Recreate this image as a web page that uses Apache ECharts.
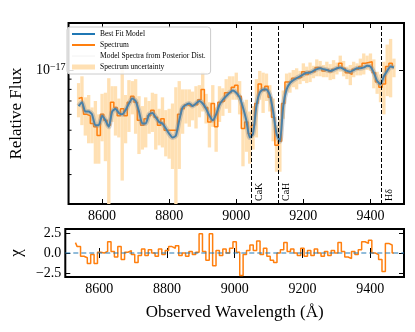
<!DOCTYPE html>
<html>
<head>
<meta charset="UTF-8">
<title>spectrum fit</title>
<script src="https://cdn.jsdelivr.net/npm/echarts@6/dist/echarts.min.js"></script>
<style>
html,body{margin:0;padding:0;background:#fff;}
#chart{width:415px;height:332px;}
</style>
</head>
<body>
<div id="chart"></div>
<script>
// wavelength grid (Angstrom)
var wave = [8530,8540,8550,8560,8570,8580,8590,8600,8610,8620,
    8630,8640,8650,8660,8670,8680,8690,8700,8710,8720,
    8730,8740,8750,8760,8770,8780,8790,8800,8810,8820,
    8830,8840,8850,8860,8870,8880,8890,8900,8910,8920,
    8930,8940,8950,8960,8970,8980,8990,9000,9010,9020,
    9030,9040,9050,9060,9070,9080,9090,9100,9110,9120,
    9130,9140,9150,9160,9170,9180,9190,9200,9210,9220,
    9230,9240,9250,9260,9270,9280,9290,9300,9310,9320,
    9330,9340,9350,9360,9370,9380,9390,9400,9410,9420,
    9430,9440,9450,9460,9470];
// flux in units of 1e-17
var model = [0.66,0.69,0.62,0.62,0.60,0.53,0.53,0.59,0.56,0.52,
    0.62,0.64,0.61,0.60,0.63,0.68,0.72,0.70,0.62,0.54,
    0.54,0.60,0.61,0.58,0.55,0.54,0.51,0.48,0.46,0.47,
    0.56,0.65,0.67,0.68,0.66,0.68,0.70,0.68,0.64,0.59,
    0.56,0.60,0.67,0.71,0.74,0.77,0.79,0.77,0.73,0.65,
    0.56,0.46,0.48,0.66,0.77,0.80,0.80,0.75,0.62,0.48,
    0.44,0.66,0.80,0.86,0.89,0.91,0.93,0.95,0.97,0.97,
    0.99,1.01,1.02,1.01,1.00,0.99,1.00,1.02,1.03,1.01,
    0.99,0.98,1.00,1.02,1.02,1.03,1.05,1.04,0.97,0.88,
    0.85,0.93,0.99,1.04,1.03];
var spec = [0.72,0.73,0.60,0.59,0.54,0.52,0.47,0.60,0.56,0.53,
    0.69,0.65,0.59,0.64,0.59,0.69,0.74,0.69,0.56,0.53,
    0.57,0.59,0.63,0.58,0.53,0.57,0.50,0.50,0.50,0.50,
    0.60,0.64,0.67,0.66,0.67,0.67,0.71,0.80,0.65,0.55,
    0.68,0.52,0.69,0.70,0.77,0.77,0.82,0.84,0.74,0.51,
    0.55,0.48,0.53,0.68,0.85,0.79,0.83,0.73,0.58,0.42,
    0.44,0.68,0.87,0.87,0.91,0.91,0.92,0.98,0.95,0.98,
    0.98,1.03,1.02,0.99,1.01,0.98,1.01,1.02,1.08,1.02,
    0.97,0.95,1.01,1.01,1.04,1.08,1.09,1.10,0.97,0.87,
    0.82,0.85,1.04,1.08,1.03];
var err = [0.14,0.20,0.13,0.16,0.11,0.18,0.13,0.16,0.21,0.38,
    0.14,0.18,0.13,0.36,0.16,0.20,0.14,0.21,0.18,0.13,
    0.16,0.11,0.14,0.18,0.11,0.16,0.13,0.14,0.18,0.32,
    0.28,0.16,0.13,0.14,0.11,0.16,0.13,0.18,0.11,0.14,
    0.16,0.13,0.14,0.11,0.13,0.16,0.11,0.13,0.14,0.18,
    0.16,0.14,0.13,0.22,0.14,0.18,0.13,0.11,0.14,0.11,
    0.13,0.11,0.09,0.10,0.09,0.11,0.07,0.10,0.09,0.11,
    0.07,0.10,0.09,0.07,0.09,0.09,0.11,0.07,0.10,0.09,
    0.07,0.11,0.09,0.07,0.10,0.13,0.09,0.11,0.16,0.11,
    0.13,0.25,0.30,0.35,0.11];
var resid = [1.3,0.8,-0.4,-0.6,-1.3,-0.2,-1.3,0.1,0.0,0.2,
    1.4,0.2,-0.5,0.8,-0.8,0.1,0.3,-0.2,-1.2,-0.3,
    0.5,-0.3,0.4,0.0,-0.4,0.5,-0.2,0.3,0.8,0.6,
    0.9,-0.3,0.0,-0.4,0.2,-0.2,0.1,2.4,0.2,-0.9,
    2.4,-1.6,0.3,-0.3,0.5,0.0,0.6,1.4,0.1,-2.8,
    -0.2,0.3,1.0,0.3,1.5,-0.2,0.6,-0.4,-0.9,-1.2,
    0.0,0.4,1.3,0.2,0.5,0.0,-0.3,0.6,-0.4,0.3,
    -0.3,0.5,0.0,-0.4,0.2,-0.3,0.3,0.0,1.3,0.2,
    -0.5,-0.7,0.2,-0.2,0.4,1.4,1.2,1.6,0.0,-0.2,
    -0.8,-2.3,1.2,1.0,0.0];
var lineWaves = [9045, 9125, 9432];
var lineNames = ['CaK', 'CaH', 'H\u03b4'];
var xTicks = [8600, 8800, 9000, 9200, 9400];
var chiTicks = [-2.5, 0, 2.5];
var minorFlux = [0.3, 0.4, 0.5, 0.6, 0.7, 0.8, 0.9];

var FONT = 'Liberation Serif';
var BAND = '#ffe0b3';
var chart = echarts.init(document.getElementById('chart'));

function pairs(ys) {
    return wave.map(function (w, i) { return [w, ys[i]]; });
}
var band = wave.map(function (w, i) {
    return [w, Math.max(spec[i] - err[i], 0.15), spec[i] + err[i]];
});

function xAx(grid, pos, labels, name) {
    return {
        type: 'value', gridIndex: grid, position: pos, min: 8500, max: 9500,
        axisLine: {show: false}, splitLine: {show: false},
        axisTick: {inside: true, length: 5, customValues: xTicks, lineStyle: {color: '#000'}},
        axisLabel: {show: labels, customValues: xTicks, margin: 5, color: '#000',
            fontFamily: FONT, fontSize: 14, formatter: function (v) { return String(v); }},
        name: name || '', nameLocation: 'middle', nameGap: 27,
        nameTextStyle: {fontFamily: FONT, fontSize: 17, color: '#000'}
    };
}

var markLineData = lineWaves.map(function (w, i) {
    return {xAxis: w, label: {formatter: lineNames[i]}};
});

option = {
    animation: false,
    grid: [
        {left: 65, right: 11, top: 23, bottom: 128, show: true, borderColor: '#000', borderWidth: 2},
        {left: 65, right: 11, top: 229, bottom: 55, show: true, borderColor: '#000', borderWidth: 2}
    ],
    legend: {
        orient: 'vertical', left: 67, top: 27,
        data: [
            {name: 'Best Fit Model'},
            {name: 'Spectrum'},
            {name: 'Model Spectra from Posterior Dist.', lineStyle: {color: '#f2f2f2', width: 1}},
            {name: 'Spectrum uncertainty', icon: 'rect', itemStyle: {color: BAND, opacity: 1}}
        ],
        itemStyle: {opacity: 0},
        itemWidth: 23, itemHeight: 5, itemGap: 1,
        padding: [2, 5, 2, 4],
        backgroundColor: 'rgba(255,255,255,0.85)', borderColor: '#cccccc', borderWidth: 1, borderRadius: 3,
        textStyle: {fontFamily: FONT, fontSize: 7.5, lineHeight: 10, color: '#000'},
        selectedMode: false
    },
    xAxis: [
        xAx(0, 'bottom', true),
        xAx(0, 'top', false),
        xAx(1, 'bottom', true, 'Observed Wavelength (\u00c5)'),
        xAx(1, 'top', false)
    ],
    yAxis: [
        {
            type: 'log', gridIndex: 0, position: 'left', min: 0.2138, max: 1.718,
            axisLine: {show: false}, splitLine: {show: false},
            axisTick: {inside: true, length: 5, lineStyle: {color: '#000'}},
            axisLabel: {
                margin: 3, color: '#000',
                formatter: function (v) { return Math.abs(v - 1) < 1e-6 ? '{a|10}{b|\u221217}' : ''; },
                rich: {
                    a: {fontFamily: FONT, fontSize: 14, lineHeight: 16, color: '#000'},
                    b: {fontFamily: FONT, fontSize: 10, lineHeight: 10, verticalAlign: 'top', color: '#000'}
                }
            },
            name: 'Relative Flux', nameLocation: 'middle', nameGap: 40,
            nameTextStyle: {fontFamily: FONT, fontSize: 17, color: '#000'}
        },
        {
            type: 'log', gridIndex: 0, position: 'right', min: 0.2138, max: 1.718,
            axisLine: {show: false}, splitLine: {show: false},
            axisTick: {inside: true, length: 5, lineStyle: {color: '#000'}},
            axisLabel: {show: false}
        },
        {
            type: 'value', gridIndex: 1, position: 'left', min: -3, max: 3,
            axisLine: {show: false}, splitLine: {show: false},
            axisTick: {inside: true, length: 5, customValues: chiTicks, lineStyle: {color: '#000'}},
            axisLabel: {customValues: chiTicks, margin: 4, color: '#000', fontFamily: FONT, fontSize: 14,
                formatter: function (v) { return v.toFixed(1).replace('-', '\u2212'); }},
            name: '\u03c7', nameLocation: 'middle', nameGap: 40,
            nameTextStyle: {fontFamily: FONT, fontSize: 17, color: '#000'}
        },
        {
            type: 'value', gridIndex: 1, position: 'right', min: -3, max: 3,
            axisLine: {show: false}, splitLine: {show: false},
            axisTick: {inside: true, length: 5, customValues: chiTicks, lineStyle: {color: '#000'}},
            axisLabel: {show: false}
        }
    ],
    series: [
        {
            name: 'Spectrum uncertainty', type: 'custom', xAxisIndex: 0, yAxisIndex: 0,
            data: band, encode: {x: 0, y: [1, 2]}, clip: true, silent: true,
            itemStyle: {color: BAND},
            renderItem: function (params, api) {
                var x = api.value(0);
                var p0 = api.coord([x - 5, api.value(2)]);
                var p1 = api.coord([x + 5, api.value(1)]);
                return {type: 'rect', shape: {x: p0[0], y: p0[1], width: p1[0] - p0[0], height: p1[1] - p0[1]},
                    style: {fill: BAND}};
            }
        },
        {
            name: 'Spectrum', type: 'line', xAxisIndex: 0, yAxisIndex: 0, step: 'middle',
            data: pairs(spec), symbol: 'none', lineStyle: {color: '#ff7f0e', width: 1.5},
            itemStyle: {color: '#ff7f0e'},
            markLine: {
                silent: true, symbol: ['none', 'none'],
                lineStyle: {color: '#000', width: 1, type: [4, 2]},
                label: {show: true, position: 'insideStartBottom', distance: 3, color: '#000',
                    fontFamily: FONT, fontSize: 10},
                data: markLineData
            }
        },
        {
            name: 'Best Fit Model', type: 'line', xAxisIndex: 0, yAxisIndex: 0, smooth: 0.2,
            data: pairs(model), symbol: 'none', lineStyle: {color: '#1f77b4', width: 2},
            itemStyle: {color: '#1f77b4'}
        },
        {
            name: 'Model Spectra from Posterior Dist.', type: 'line', xAxisIndex: 0, yAxisIndex: 0, smooth: 0.2,
            data: pairs(model), symbol: 'none', lineStyle: {color: 'rgba(140,145,150,0.4)', width: 5},
            itemStyle: {color: '#f2f2f2'}
        },
        {
            name: 'Chi', type: 'line', xAxisIndex: 2, yAxisIndex: 2, step: 'middle',
            data: pairs(resid), symbol: 'none', lineStyle: {color: '#ff7f0e', width: 1.5},
            markLine: {
                silent: true, symbol: ['none', 'none'], label: {show: false},
                lineStyle: {color: 'rgba(31,119,180,0.65)', width: 1.5, type: [5, 3]},
                data: [{yAxis: 0}]
            }
        }
    ]
};
chart.setOption(option);

// matplotlib-style minor ticks on the log axis
var x0 = chart.convertToPixel({xAxisIndex: 0}, 8500);
chart.setOption({
    graphic: minorFlux.map(function (v) {
        var y = chart.convertToPixel({yAxisIndex: 0}, v);
        return {type: 'line', shape: {x1: x0, y1: y, x2: x0 + 3, y2: y},
            style: {stroke: '#000', lineWidth: 1}, silent: true};
    })
});
</script>
</body>
</html>
